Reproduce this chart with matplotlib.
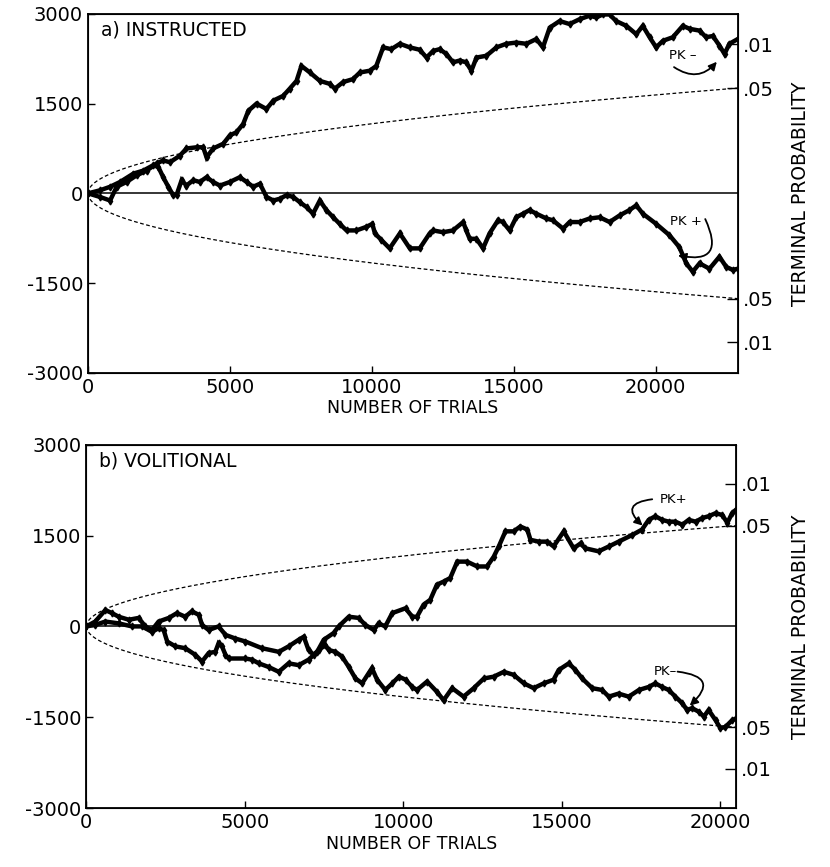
import numpy as np
import matplotlib.pyplot as plt

# Panel a) INSTRUCTED -- cumulative deviations
a_pkm_trials = [0, 420, 780, 1010, 1360, 1710, 2070, 2420, 2650, 2890, 3240, 3470, 3830, 4060, 4180, 4410,
                4770, 5000, 5230, 5470, 5650, 5940, 6290, 6530, 6880, 7110, 7350, 7520, 7820, 8170, 8520,
                8700, 8990, 9340, 9580, 9930, 10160, 10400, 10690, 10990, 11340, 11690, 11930, 12160, 12390,
                12630, 12860, 13100, 13330, 13510, 13690, 14040, 14390, 14740, 15090, 15450, 15800, 16030,
                16270, 16620, 16970, 17320, 17680, 17910, 18140, 18380, 18610, 18970, 19320, 19550, 19790,
                20020, 20260, 20610, 20960, 21200, 21550, 21780, 22020, 22250, 22430, 22600, 22900]
a_pkm_dev = [0, -60, -120, 110, 190, 300, 380, 500, 550, 520, 630, 750, 770, 770, 600, 750,
             830, 970, 1020, 1160, 1380, 1500, 1410, 1550, 1630, 1750, 1880, 2130, 2020, 1880, 1830,
             1750, 1860, 1910, 2020, 2050, 2130, 2440, 2410, 2500, 2440, 2400, 2270, 2380, 2410,
             2330, 2190, 2220, 2190, 2050, 2270, 2300, 2440, 2500, 2520, 2500, 2580, 2440,
             2770, 2880, 2830, 2910, 2970, 2940, 2990, 2990, 2880, 2800, 2660, 2800, 2610,
             2440, 2550, 2610, 2800, 2750, 2720, 2610, 2630, 2470, 2330, 2500, 2580]

a_pkp_trials = [0, 420, 780, 1130, 1600, 1950, 2300, 2480, 2650, 2830, 3000, 3120, 3300, 3470, 3710, 3940,
                4180, 4410, 4650, 5000, 5350, 5590, 5820, 6060, 6290, 6530, 6760, 7000, 7230, 7470, 7700,
                7930, 8170, 8400, 8640, 8870, 9110, 9460, 9810, 10020, 10110, 10340, 10630, 10990, 11340,
                11690, 12040, 12160, 12510, 12860, 13220, 13330, 13450, 13690, 13920, 14150, 14450, 14620,
                14860, 15090, 15330, 15560, 15800, 16150, 16380, 16740, 16970, 17320, 17680, 18030, 18380,
                18730, 19080, 19320, 19550, 20020, 20490, 20840, 21080, 21310, 21550, 21900, 22250, 22490,
                22720, 22900]
a_pkp_dev = [0, 50, 110, 190, 330, 380, 470, 440, 270, 110, -30, -30, 220, 130, 220, 190,
             270, 190, 130, 190, 270, 190, 110, 160, -60, -120, -90, -30, -60, -150, -230,
             -340, -120, -280, -400, -510, -620, -620, -560, -510, -670, -780, -920, -670, -920,
             -920, -670, -620, -650, -620, -480, -620, -760, -760, -920, -670, -450, -480,
             -620, -400, -340, -280, -340, -420, -450, -590, -480, -480, -420, -400, -480,
             -370, -280, -200, -340, -510, -700, -900, -1170, -1310, -1170, -1260, -1060, -1230,
             -1280, -1260]

# Panel b) VOLITIONAL
b_pkp_trials = [0, 280, 600, 1020, 1440, 1760, 2070, 2280, 2440, 2550, 2810, 3120, 3440, 3650, 3860, 4070,
                4170, 4280, 4390, 4490, 5020, 5230, 5440, 5750, 6070, 6380, 6700, 7010, 7280, 7490, 7800,
                7960, 8280, 8590, 8800, 9070, 9220, 9430, 9650, 10070, 10280, 10430, 10640, 10850, 11060,
                11270, 11480, 11700, 12010, 12330, 12640, 12850, 13010, 13220, 13480, 13690, 13910, 14010,
                14270, 14540, 14740, 15060, 15370, 15590, 15740, 16160, 16480, 16790, 17220, 17530, 17740,
                17950, 18160, 18370, 18580, 18800, 19000, 19220, 19430, 19630, 19850, 20060, 20220, 20370,
                20500]
b_pkp_dev = [0, 25, 80, 50, 0, 0, -90, -30, -60, -250, -330, -360, -470, -580, -440, -420,
             -280, -330, -470, -530, -530, -550, -610, -670, -750, -610, -640, -550, -420, -220, -110,
             0, 160, 140, 25, -60, 50, 0, 220, 300, 160, 160, 360, 440, 690,
             740, 800, 1070, 1070, 990, 990, 1150, 1320, 1570, 1570, 1650, 1600, 1430,
             1400, 1400, 1320, 1570, 1290, 1370, 1290, 1240, 1320, 1400, 1510, 1600, 1760,
             1820, 1760, 1730, 1730, 1680, 1760, 1730, 1790, 1820, 1870, 1840, 1710, 1870,
             1930]

b_pkm_trials = [0, 280, 600, 810, 1020, 1340, 1650, 1860, 2070, 2280, 2600, 2860, 3120, 3330, 3550, 3650,
                3860, 4170, 4390, 4700, 5020, 5540, 6070, 6380, 6700, 6860, 7010, 7170, 7330, 7540, 7650,
                7860, 8070, 8280, 8490, 8700, 8910, 9010, 9170, 9430, 9650, 9860, 10070, 10280, 10430,
                10750, 11060, 11270, 11540, 11900, 12220, 12540, 12850, 13170, 13480, 13800, 14110, 14430,
                14740, 14900, 15220, 15430, 15640, 15960, 16270, 16480, 16790, 17110, 17430, 17740, 17950,
                18160, 18370, 18580, 18800, 18950, 19110, 19320, 19480, 19630, 19850, 20000, 20160, 20370,
                20500]
b_pkm_dev = [0, 80, 270, 220, 160, 110, 140, 0, -60, 80, 140, 220, 160, 250, 190, 25,
             -60, 0, -140, -200, -250, -360, -420, -330, -220, -170, -390, -470, -390, -310, -390,
             -420, -500, -670, -860, -940, -770, -690, -880, -1050, -940, -830, -880, -1000, -1050,
             -910, -1080, -1220, -1020, -1160, -1020, -860, -830, -750, -800, -940, -1020, -940,
             -880, -720, -610, -720, -860, -1020, -1050, -1160, -1110, -1160, -1050, -1000, -940,
             -1000, -1050, -1160, -1270, -1380, -1350, -1410, -1490, -1380, -1550, -1680, -1660, -1550,
             -1520]

y_ticks = [3000, 1500, 0, -1500, -3000]
y_ticklabels = ["3000", "1500", "0", "-1500", "-3000"]
x_ticks = [0, 5000, 10000, 15000, 20000]
prob_labels = [".01", ".05", ".05", ".01"]
z_01, z_05 = 2.326, 1.645
BITS_PER_TRIAL = 200

plt.rcParams['font.family'] = 'DejaVu Sans'
fig = plt.figure(figsize=(8.3, 8.67), dpi=100)


def draw_panel(rect, xmax, title, traces, notes):
    ax = fig.add_axes(rect)
    ax.set_xlim(0, xmax)
    ax.set_ylim(-3000, 3000)

    # chance envelope (.05 terminal probability)
    n = np.linspace(0, xmax, 400)
    sd = np.sqrt(n * BITS_PER_TRIAL * 0.25)
    ax.plot(n, z_05 * sd, color='k', lw=0.9, dashes=(3, 2))
    ax.plot(n, -z_05 * sd, color='k', lw=0.9, dashes=(3, 2))
    ax.axhline(0, color='k', lw=1.1)

    for tx, dv in traces:
        ax.plot(tx, dv, color='k', lw=3.2, marker='d', ms=3.5, solid_joinstyle='miter')

    for txt, xy_text, xy_from, xy_to, rad in notes:
        ax.text(*xy_text, txt, fontsize=9.5, ha='center', va='center')
        ax.annotate("", xy=xy_to, xytext=xy_from,
                    arrowprops=dict(arrowstyle='-|>', color='k', lw=1.3, mutation_scale=12,
                                    shrinkA=0, shrinkB=1,
                                    connectionstyle=f'arc3,rad={rad}'))

    ax.set_yticks(y_ticks)
    ax.set_yticklabels(y_ticklabels)
    ax.set_xticks(x_ticks)
    ax.set_xticklabels([str(v) for v in x_ticks])
    ax.tick_params(direction='in', length=5, labelsize=14, width=1)
    ax.set_xlabel("NUMBER OF TRIALS", fontsize=12.5, labelpad=2)
    for s in ax.spines.values():
        s.set_linewidth(1.3)
    ax.text(0.02, 0.955, title, transform=ax.transAxes, fontsize=13.5, ha='left', va='center')

    # right axis: terminal probability
    ax2 = ax.twinx()
    ax2.set_ylim(-3000, 3000)
    s_end = np.sqrt(xmax * BITS_PER_TRIAL * 0.25)
    ax2.set_yticks([z_01 * s_end, z_05 * s_end, -z_05 * s_end, -z_01 * s_end])
    ax2.set_yticklabels(prob_labels)
    ax2.tick_params(direction='in', length=8, labelsize=14, width=1)
    return ax


draw_panel([0.106, 0.570, 0.783, 0.414], 22900, "a) INSTRUCTED",
           [(a_pkm_trials, a_pkm_dev), (a_pkp_trials, a_pkp_dev)],
           [("PK \u2013", (20950, 2300), (20650, 2110), (22190, 2217), 0.45),
            ("PK +", (21075, -478), (21750, -430), (20740, -1033), -1.0)])
fig.text(0.964, 0.777, "TERMINAL PROBABILITY", rotation=90, fontsize=13.5, ha='center', va='center')

draw_panel([0.104, 0.068, 0.783, 0.419], 20500, "b) VOLITIONAL",
           [(b_pkp_trials, b_pkp_dev), (b_pkm_trials, b_pkm_dev)],
           [("PK+", (18520, 2090), (17850, 2100), (17580, 1650), 1.1),
            ("PK\u2013", (18270, -747), (18650, -747), (19000, -1325), -1.1)])
fig.text(0.964, 0.277, "TERMINAL PROBABILITY", rotation=90, fontsize=13.5, ha='center', va='center')

fig.savefig("out.png", dpi=100)
